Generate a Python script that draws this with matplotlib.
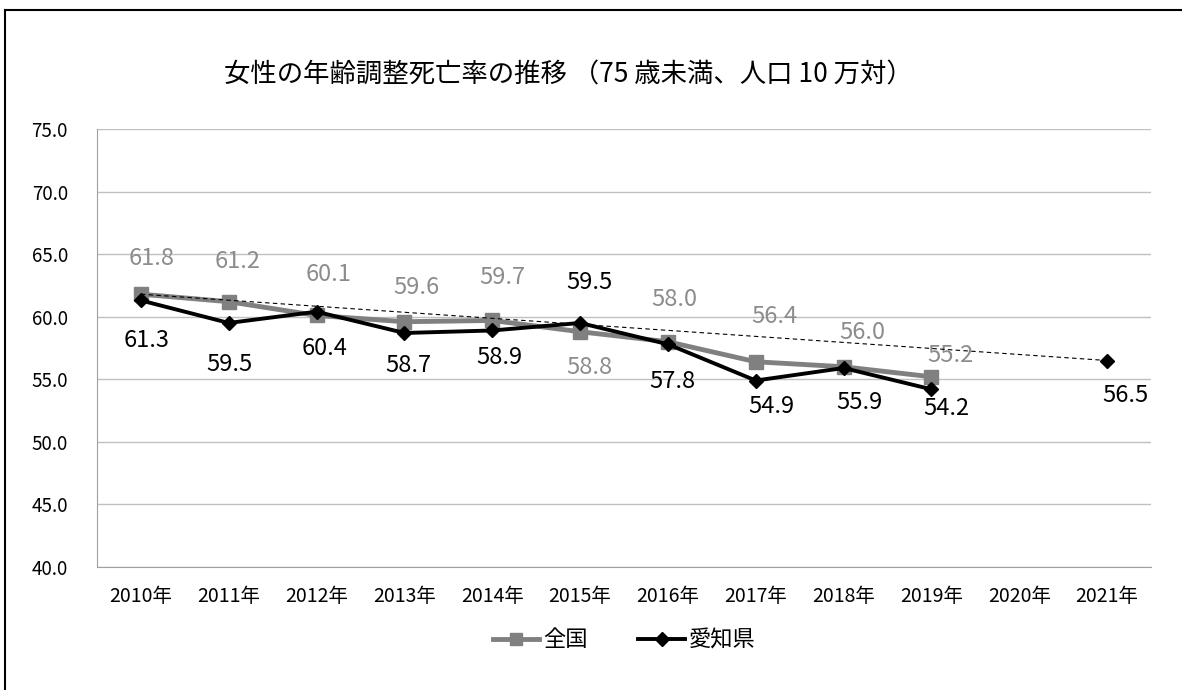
import numpy as np
import matplotlib.pyplot as plt
from matplotlib.lines import Line2D

plt.rcParams['font.family'] = ['Noto Sans CJK JP', 'DejaVu Sans']

years = ['2010年', '2011年', '2012年', '2013年', '2014年', '2015年',
         '2016年', '2017年', '2018年', '2019年', '2020年', '2021年']
zenkoku = [61.8, 61.2, 60.1, 59.6, 59.7, 58.8, 58.0, 56.4, 56.0, 55.2]
aichi = [61.3, 59.5, 60.4, 58.7, 58.9, 59.5, 57.8, 54.9, 55.9, 54.2]
target_year_idx = 11
target_val = 56.5
yticks = [40, 45, 50, 55, 60, 65, 70, 75]

# label offsets in pixels (dx, dy), dy positive = downward
zenkoku_off = [(11, -36), (9, -40), (12, -41), (12, -34), (10, -43),
               (9, 36), (6, -42), (19, -45), (19, -34), (19, -21)]
aichi_off = [(6, 40), (1, 42), (8, 37), (4, 33), (7, 27),
             (9, -40), (4, 37), (16, 26), (16, 34), (15, 19)]
target_off = (18, 35)

fig = plt.figure(figsize=(11.82, 6.9), dpi=100)
ax = fig.add_axes([97/1182, 1-567/690, (1151-97)/1182, (567-129)/690])

x = np.arange(len(years))
xz = x[:len(zenkoku)]
xa = x[:len(aichi)]

gray = '#808080'
ax.plot(xz, zenkoku, color=gray, lw=3.5, marker='s', ms=9.5, zorder=3)
ax.plot(xa, aichi, color='black', lw=2.8, marker='D', ms=7, zorder=4)
ax.plot([target_year_idx], [target_val], color='black', marker='D', ms=7, lw=0, zorder=4)
ax.plot([0, target_year_idx], [zenkoku[0], target_val], color='black', lw=0.8,
        ls=(0, (4, 3)), zorder=5)

px = 0.72  # pixels -> points
for xi, v, (dx, dy) in zip(xz, zenkoku, zenkoku_off):
    ax.annotate(f'{v:.1f}', (xi, v), xytext=(dx*px, -dy*px), textcoords='offset points',
                ha='center', va='center', fontsize=17, color='#8c8c8c')
for xi, v, (dx, dy) in zip(xa, aichi, aichi_off):
    ax.annotate(f'{v:.1f}', (xi, v), xytext=(dx*px, -dy*px), textcoords='offset points',
                ha='center', va='center', fontsize=17, color='black')
ax.annotate(f'{target_val:.1f}', (target_year_idx, target_val),
            xytext=(target_off[0]*px, -target_off[1]*px),
            textcoords='offset points', ha='center', va='center', fontsize=17)

ax.set_xlim(-0.5, len(years) - 0.5)
ax.set_ylim(40, 75)
ax.set_yticks(yticks)
ax.set_yticklabels([f'{t:.1f}' for t in yticks])
ax.set_xticks(x)
ax.set_xticklabels(years)
ax.grid(axis='y', color='#c0c0c0', lw=1)
ax.set_axisbelow(True)
for s in ['top', 'right']:
    ax.spines[s].set_visible(False)
for s in ['left', 'bottom']:
    ax.spines[s].set_color('#a0a0a0')
ax.tick_params(axis='y', length=0, pad=21, labelsize=13.5)
ax.tick_params(axis='x', length=0, pad=14, labelsize=14)

fig.text(568/1182, 1-75/690, '女性の年齢調整死亡率の推移 （75 歳未満、人口 10 万対）',
         ha='center', va='center', fontsize=19)

handles = [Line2D([], [], color=gray, lw=3.5, marker='s', ms=9),
           Line2D([], [], color='black', lw=2.8, marker='D', ms=7)]
fig.legend(handles, ['全国', '愛知県'], loc='center', bbox_to_anchor=(624/1182, 1-640/690),
           ncol=2, frameon=False, fontsize=16, handlelength=2.1, columnspacing=2.3,
           handletextpad=0.15)

# outer frame (top and left edges visible)
fig.add_artist(Line2D([5/1182, 1], [1-10/690, 1-10/690], color='black', lw=1.5,
                      transform=fig.transFigure))
fig.add_artist(Line2D([5/1182, 5/1182], [0, 1-10/690], color='black', lw=1.5,
                      transform=fig.transFigure))

fig.savefig('out.png', dpi=100)
